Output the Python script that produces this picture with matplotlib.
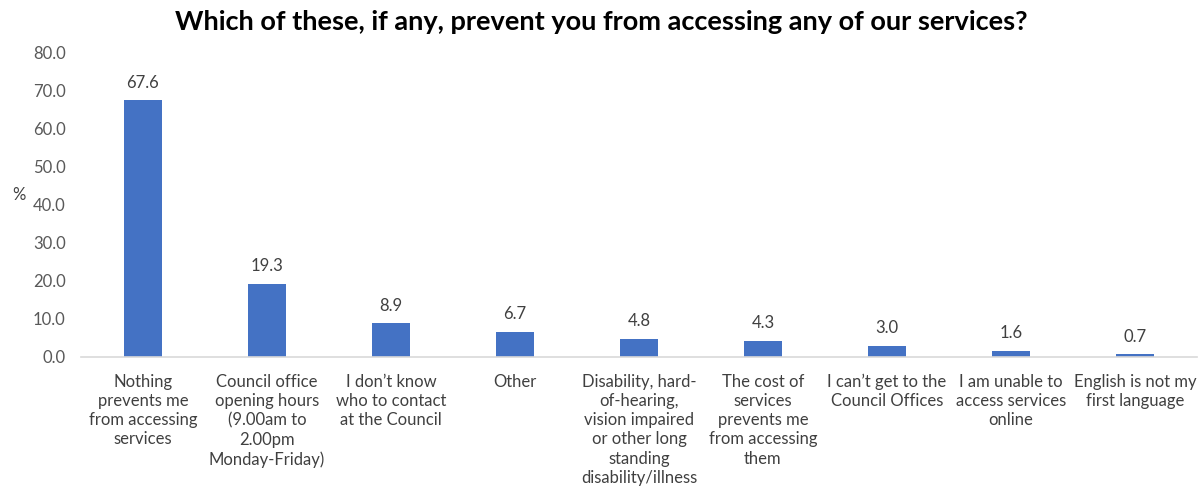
import matplotlib.pyplot as plt
import numpy as np

plt.rcParams['font.family'] = ['Lato', 'DejaVu Sans']

categories = [
    'Nothing\nprevents me\nfrom accessing\nservices',
    'Council office\nopening hours\n(9.00am to\n2.00pm\nMonday-Friday)',
    'I don\u2019t know\nwho to contact\nat the Council',
    'Other',
    'Disability, hard-\nof-hearing,\nvision impaired\nor other long\nstanding\ndisability/illness',
    'The cost of\nservices\nprevents me\nfrom accessing\nthem',
    'I can\u2019t get to the\nCouncil Offices',
    'I am unable to\naccess services\nonline',
    'English is not my\nfirst language',
]
values = [67.6, 19.3, 8.9, 6.7, 4.8, 4.3, 3.0, 1.6, 0.7]

fig = plt.figure(figsize=(12.03, 4.97), dpi=100)
ax = fig.add_axes([0.0673, 0.2817, 0.9277, 0.6117])

x = np.arange(len(values))
bars = ax.bar(x, values, width=0.31, color='#4472C4', zorder=2)
for b, v in zip(bars, values):
    ax.text(b.get_x() + b.get_width() / 2, v + 2.5, f'{v:.1f}',
            ha='center', va='bottom', fontsize=12, color='#404040')

ax.set_xlim(-0.5, len(values) - 0.5)
ax.set_ylim(0, 80)
ax.set_yticks(np.arange(0, 81, 10))
ax.set_yticklabels([f'{t:.1f}' for t in np.arange(0, 81, 10)], fontsize=12, color='#595959')
ax.set_xticks(x)
ax.set_xticklabels(categories, fontsize=12, color='#404040', linespacing=1.25, va='top')
ax.tick_params(axis='both', length=0)
ax.tick_params(axis='x', pad=12)
ax.tick_params(axis='y', pad=11)

for s in ['top', 'right', 'left']:
    ax.spines[s].set_visible(False)
ax.spines['bottom'].set_color('#D9D9D9')
ax.spines['bottom'].set_linewidth(1.2)

fig.text(0.016, 0.607, '%', fontsize=12, color='#404040', ha='center', va='center')
fig.suptitle('Which of these, if any, prevent you from accessing any of our services?',
             x=0.5, y=0.98, fontsize=19.5, fontweight='bold', color='black', va='top')

fig.savefig('out.png', dpi=100)
